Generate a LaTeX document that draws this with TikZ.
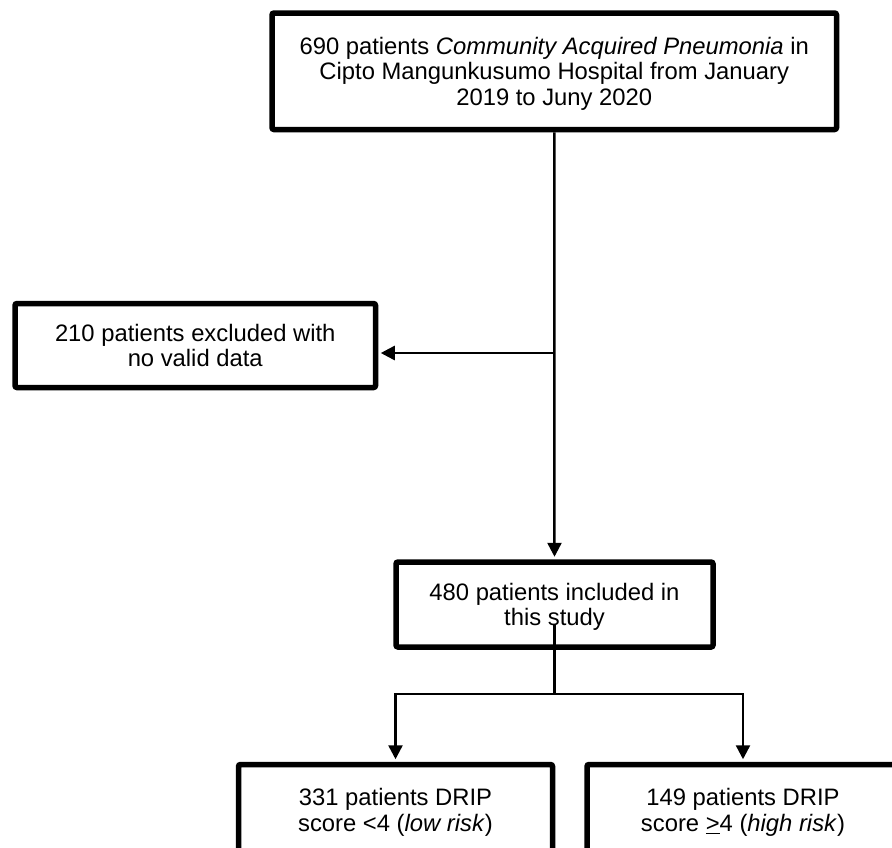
\documentclass[tikz,border=0pt]{standalone}
\usepackage{fontspec}
\setmainfont{Liberation Sans}
\usetikzlibrary{arrows.meta}

\begin{document}
\begin{tikzpicture}[x=1pt, y=-1pt, >={Triangle[length=14pt, width=14pt]},
    flowbox/.style={draw, line width=5.5pt, rounded corners=2pt, align=center,
        inner sep=0pt, text depth=0pt, font=\fontsize{23.8}{25.5}\selectfont},
    conn/.style={line width=2.5pt}]
\clip (0,0) rectangle (892,847);

% --- boxes ---
\node[flowbox, minimum width=564.5pt, minimum height=116.5pt] (cap) at (554.25, 71.25)
    {690 patients \textit{Community Acquired Pneumonia} in\\
     Cipto Mangunkusumo Hospital from January\\
     2019 to Juny 2020};
\node[flowbox, minimum width=360.5pt, minimum height=84pt] (excl) at (195.25, 345.5)
    {210 patients excluded with\\ no valid data};
\node[flowbox, minimum width=317pt, minimum height=85pt] (incl) at (554.5, 604.5)
    {480 patients included in\\ this study};
\node[flowbox, minimum width=314pt, minimum height=91pt] (low) at (395.5, 810)
    {331 patients DRIP\\ score <4 (\textit{low risk})};
\node[flowbox, minimum width=312pt, minimum height=91pt] (high) at (743, 810)
    {149 patients DRIP\\ score \underline{>}4 (\textit{high risk})};

% --- connectors ---
\coordinate (branch) at (554, 353);
\coordinate (split) at (554.5, 694);
\draw[conn, ->, shorten >=2.5pt] (cap.south) -- (incl.north);
\draw[conn, ->, shorten >=2.5pt] (branch) -- (branch -| excl.east);
\draw[conn] ([yshift=-20pt]incl.center) -- (split);
\draw[conn, ->, shorten >=2.5pt] (split) -| (low.north);
\draw[conn, ->, shorten >=2.5pt] (split) -| (high.north);
\end{tikzpicture}
\end{document}
